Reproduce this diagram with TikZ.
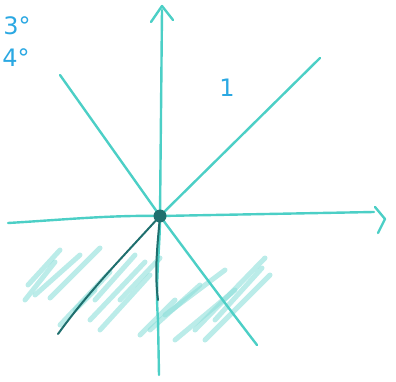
\documentclass[tikz,border=0pt]{standalone}
\usepackage{fontspec}
\setmainfont{DejaVu Sans}
\definecolor{ink}{HTML}{4CCFC6}
\definecolor{darkink}{HTML}{1F6F6E}
\definecolor{blueink}{HTML}{2BA8E2}
\definecolor{hatchink}{HTML}{8EDFDA}
\begin{document}
\begin{tikzpicture}[x=1pt,y=-1pt,
  pen/.style={draw=ink, line width=2.4pt, line cap=round, line join=round},
  darkpen/.style={draw=darkink, line width=2pt, line cap=round},
  hatch/.style={draw=hatchink, line width=5pt, line cap=round, opacity=0.6},
  lbl/.style={text=blueink, font=\fontsize{24}{24}\selectfont}]
\useasboundingbox (0,0) rectangle (396,382);
% hatching
\foreach \a/\b/\c/\d in {
  25/300/55/262, 35/295/80/255, 28/285/60/250, 50/298/100/248,
  60/325/110/272, 90/320/145/262, 100/330/150/275, 75/310/95/290,
  95/300/135/255, 120/300/160/258,
  140/335/175/300, 150/330/200/285, 165/315/225/270, 175/340/235/290,
  195/330/265/258, 205/340/270/275, 215/320/262/268}
  \draw[hatch] (\a,\b) -- (\c,\d);
\coordinate (O) at (160,216);
\coordinate (ytop) at (162,10);
\coordinate (ybot) at (159,375);
\coordinate (xl) at (8,223);
\coordinate (xr) at (374,212);
\coordinate (nw) at (60,75);
\coordinate (se) at (257,345);
\coordinate (ne) at (320,58);
\coordinate (sw) at (58,334);
% axes
\draw[pen] (xl) .. controls (60,220) and (110,215) .. (O) -- (xr);
\draw[pen] (ybot) -- (158,320) .. controls (155,280) and (160,250) .. (O) -- (ytop);
\draw[darkpen] (158,300) .. controls (154,270) and (158,240) .. (O);
% arrowheads
\coordinate (yt) at (162,6);
\draw[pen] (151,22) -- (yt) -- (173,20);
\coordinate (xt) at (385,219);
\draw[pen] (375,207) -- (xt) -- (378,233);
% diagonals
\draw[pen] (nw) -- (O) .. controls (200,270) and (230,310) .. (se);
\draw[pen] (ne) -- (O);
\draw[darkpen] (O) .. controls (120,260) and (90,290) .. (sw);
% origin dot
\node[circle, fill=darkink, inner sep=0pt, minimum width=13pt, minimum height=10pt] (dot) at (O) {};
% labels
\node[lbl] (t3) at (17,26) {3°};
\node[lbl] (t4) at (16,58) {4°};
\node[lbl] (one) at (227,88) {1};
\end{tikzpicture}
\end{document}
